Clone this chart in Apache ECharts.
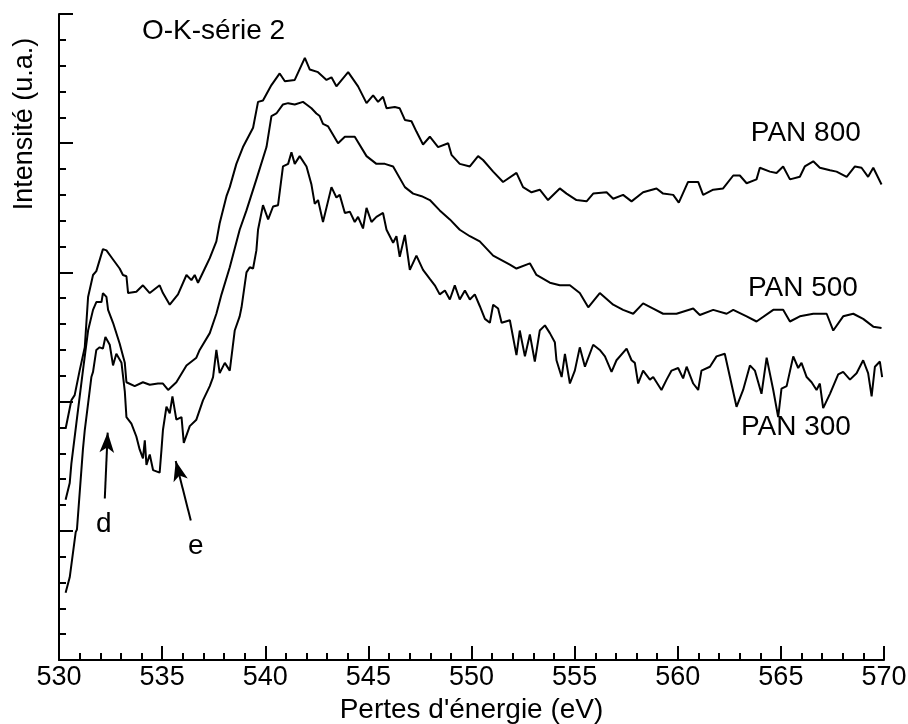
<!DOCTYPE html>
<html><head><meta charset="utf-8">
<script src="https://cdn.jsdelivr.net/npm/echarts@6/dist/echarts.min.js"></script>
<style>html,body{margin:0;padding:0;background:#fff}#c{width:908px;height:724px}</style>
</head><body><div id="c"></div>
<script>
// Energy loss (eV), intensity (a.u.)
const pan800 = [[530.32,1.79],[530.60,2.01],[530.76,2.05],[531.00,2.24],[531.25,2.42],[531.41,2.81],[531.65,2.98],[531.81,3.01],[532.13,3.18],[532.30,3.17],[532.62,3.10],[532.94,3.03],[533.10,2.98],[533.27,2.97],[533.35,2.84],[533.75,2.85],[534.07,2.90],[534.40,2.84],[534.88,2.90],[535.04,2.84],[535.37,2.75],[535.77,2.83],[536.18,2.98],[536.42,2.94],[536.58,2.98],[536.74,2.92],[537.07,3.03],[537.31,3.11],[537.63,3.24],[537.79,3.38],[538.12,3.59],[538.28,3.66],[538.60,3.84],[538.92,3.97],[539.41,4.12],[539.65,4.32],[539.89,4.33],[540.30,4.45],[540.70,4.54],[540.95,4.48],[541.43,4.49],[541.92,4.66],[542.16,4.57],[542.56,4.55],[542.97,4.49],[543.21,4.51],[543.45,4.44],[544.02,4.55],[544.50,4.44],[544.91,4.31],[545.23,4.37],[545.47,4.32],[545.71,4.36],[545.88,4.27],[546.28,4.28],[546.52,4.27],[546.77,4.18],[547.09,4.17],[547.33,4.09],[547.65,3.99],[547.98,4.05],[548.38,3.97],[548.87,4.00],[549.03,3.91],[549.43,3.84],[549.92,3.82],[550.32,3.90],[550.56,3.87],[551.05,3.78],[551.53,3.70],[552.18,3.77],[552.50,3.66],[552.91,3.62],[553.31,3.64],[553.71,3.56],[554.28,3.65],[554.61,3.61],[555.09,3.56],[555.58,3.55],[555.90,3.61],[556.55,3.62],[556.87,3.57],[557.35,3.60],[557.76,3.55],[558.32,3.62],[558.97,3.65],[559.29,3.61],[559.78,3.60],[560.05,3.54],[560.50,3.70],[560.99,3.70],[561.23,3.60],[561.72,3.64],[562.20,3.65],[562.69,3.75],[563.01,3.75],[563.34,3.69],[563.82,3.72],[563.98,3.81],[564.47,3.78],[564.79,3.77],[565.11,3.82],[565.44,3.72],[565.92,3.74],[566.16,3.82],[566.57,3.86],[566.89,3.81],[567.38,3.79],[567.70,3.78],[568.19,3.74],[568.59,3.82],[568.91,3.81],[569.23,3.74],[569.48,3.81],[569.88,3.68]];

const pan500 = [[530.32,1.24],[530.52,1.37],[530.60,1.52],[530.84,1.83],[531.16,2.24],[531.41,2.55],[531.65,2.71],[531.81,2.77],[532.06,2.77],[532.13,2.84],[532.30,2.81],[532.38,2.71],[532.62,2.61],[532.94,2.45],[533.19,2.30],[533.27,2.15],[533.67,2.12],[534.07,2.15],[534.40,2.13],[534.80,2.14],[535.04,2.14],[535.29,2.09],[535.69,2.15],[536.18,2.28],[536.66,2.34],[536.82,2.40],[537.31,2.53],[537.63,2.68],[537.88,2.83],[538.28,3.04],[538.76,3.33],[539.09,3.48],[539.57,3.72],[540.06,3.97],[540.30,4.21],[540.54,4.23],[540.86,4.30],[541.11,4.31],[541.43,4.30],[541.83,4.32],[542.00,4.30],[542.24,4.27],[542.48,4.23],[542.64,4.21],[542.80,4.15],[543.05,4.13],[543.53,4.00],[543.86,4.05],[544.34,4.05],[544.91,3.90],[545.39,3.84],[545.80,3.84],[546.20,3.82],[546.77,3.66],[547.17,3.61],[547.58,3.59],[547.98,3.56],[548.46,3.48],[548.95,3.41],[549.43,3.33],[549.92,3.28],[550.40,3.24],[551.05,3.13],[551.86,3.06],[552.18,3.03],[552.83,3.07],[553.15,2.98],[553.80,2.92],[554.28,2.90],[554.77,2.90],[555.25,2.84],[555.66,2.73],[556.22,2.84],[556.87,2.75],[557.35,2.71],[557.84,2.68],[558.32,2.76],[558.81,2.72],[559.29,2.68],[559.94,2.68],[560.75,2.72],[561.07,2.67],[561.72,2.71],[562.37,2.68],[562.69,2.71],[563.34,2.66],[563.82,2.62],[564.63,2.71],[565.11,2.71],[565.44,2.62],[565.92,2.66],[566.57,2.68],[567.22,2.68],[567.54,2.55],[568.02,2.66],[568.51,2.68],[568.99,2.64],[569.48,2.58],[569.88,2.57]];

const pan300 = [[530.32,0.52],[530.52,0.64],[530.60,0.64],[530.81,0.99],[530.87,1.01],[531.16,1.63],[531.25,1.78],[531.57,2.19],[531.65,2.23],[531.81,2.40],[531.97,2.42],[532.13,2.41],[532.25,2.50],[532.46,2.44],[532.62,2.28],[532.78,2.37],[533.03,2.30],[533.19,2.08],[533.27,1.88],[533.51,1.83],[533.75,1.73],[533.91,1.63],[534.07,1.56],[534.16,1.70],[534.24,1.51],[534.40,1.59],[534.56,1.47],[534.64,1.47],[534.88,1.45],[534.97,1.63],[535.04,1.78],[535.21,1.96],[535.37,1.91],[535.50,2.04],[535.69,1.86],[535.94,1.88],[536.05,1.68],[536.34,1.81],[536.66,1.86],[536.98,2.01],[537.31,2.12],[537.47,2.19],[537.63,2.40],[537.79,2.22],[538.04,2.30],[538.28,2.24],[538.52,2.55],[538.76,2.66],[538.85,2.73],[539.09,3.00],[539.25,3.04],[539.41,3.03],[539.57,3.17],[539.65,3.33],[539.89,3.52],[539.98,3.53],[540.14,3.41],[540.38,3.51],[540.62,3.52],[540.86,3.82],[541.11,3.84],[541.27,3.93],[541.43,3.84],[541.67,3.90],[542.00,3.82],[542.24,3.68],[542.40,3.53],[542.56,3.56],[542.80,3.39],[543.21,3.66],[543.45,3.58],[543.61,3.60],[543.86,3.46],[544.10,3.47],[544.34,3.39],[544.50,3.43],[544.74,3.34],[544.91,3.50],[545.15,3.39],[545.39,3.43],[545.71,3.46],[545.88,3.33],[546.20,3.23],[546.36,3.28],[546.52,3.12],[546.77,3.29],[547.01,3.02],[547.33,3.13],[547.65,3.02],[547.98,2.95],[548.22,2.90],[548.46,2.83],[548.71,2.86],[548.95,2.79],[549.19,2.90],[549.43,2.79],[549.68,2.86],[549.92,2.79],[550.16,2.83],[550.40,2.74],[550.65,2.64],[550.89,2.61],[551.05,2.75],[551.29,2.72],[551.46,2.61],[551.86,2.63],[552.18,2.36],[552.34,2.55],[552.59,2.35],[552.83,2.52],[553.07,2.31],[553.31,2.55],[553.56,2.59],[553.80,2.53],[554.04,2.46],[554.12,2.32],[554.37,2.19],[554.53,2.37],[554.77,2.14],[555.01,2.24],[555.25,2.42],[555.50,2.27],[555.90,2.44],[556.22,2.40],[556.47,2.35],[556.79,2.23],[557.03,2.32],[557.52,2.41],[557.76,2.32],[557.92,2.30],[558.08,2.14],[558.32,2.24],[558.65,2.17],[558.81,2.19],[559.21,2.09],[559.46,2.17],[559.70,2.24],[560.02,2.26],[560.26,2.18],[560.43,2.27],[560.75,2.14],[560.99,2.09],[561.15,2.24],[561.56,2.27],[561.88,2.35],[562.28,2.37],[562.53,2.19],[562.85,1.96],[563.17,2.09],[563.50,2.28],[563.74,2.24],[564.06,2.06],[564.31,2.34],[564.63,2.09],[564.87,1.88],[565.03,2.10],[565.28,2.12],[565.60,2.35],[565.84,2.26],[566.00,2.30],[566.25,2.19],[566.49,2.15],[566.73,2.09],[566.89,2.14],[567.05,1.95],[567.38,2.06],[567.78,2.21],[568.02,2.23],[568.35,2.17],[568.67,2.22],[568.99,2.32],[569.23,2.22],[569.40,2.04],[569.56,2.27],[569.80,2.31],[569.91,2.19]];

// Text annotations: [label, energy, intensity]
const curveLabels = [['PAN 800', 566.21, 4.08], ['PAN 500', 566.07, 2.88], ['PAN 300', 565.73, 1.80]];
const peakLabels = [['d', 532.17, 1.05], ['e', 536.63, 0.88]];
// Arrows: [from energy, from intensity, to energy, to intensity]
const arrows = [[532.22, 1.25, 532.36, 1.76], [536.39, 1.08, 535.66, 1.54]];
const xTicks = {min: 530, max: 570, interval: 5};
const yTicks = {min: 0, max: 5, interval: 1};

const FONT = '"Liberation Sans", Arial, Helvetica, sans-serif';
const chart = echarts.init(document.getElementById('c'), null, {renderer: 'canvas'});

const lineSeries = (name, data) => ({
  name, type: 'line', data, showSymbol: false, symbol: 'none', smooth: false,
  lineStyle: {color: '#000', width: 2}, animation: false, silent: true
});

const annot = curveLabels.concat(peakLabels).map(a => ({name: a[0], value: [a[1], a[2]]}));

chart.setOption({
  animation: false,
  backgroundColor: '#fff',
  title: {text: 'O-K-série 2', left: 137, top: 12,
    textStyle: {fontFamily: FONT, fontSize: 28, fontWeight: 'normal', color: '#000'}},
  grid: {left: 59, right: 24, top: 14, bottom: 64, containLabel: false, outerBoundsMode: 'none'},
  xAxis: {
    type: 'value', min: xTicks.min, max: xTicks.max, interval: xTicks.interval,
    name: "Pertes d'énergie (eV)", nameLocation: 'middle', nameGap: 31,
    nameTextStyle: {fontFamily: FONT, fontSize: 28, color: '#000'},
    axisLine: {lineStyle: {color: '#000', width: 2}},
    axisTick: {inside: true, length: 14, lineStyle: {color: '#000', width: 2}},
    minorTick: {show: true, splitNumber: 5, length: 7, lineStyle: {color: '#000', width: 2}},
    axisLabel: {fontFamily: FONT, fontSize: 27, color: '#000', margin: 4},
    splitLine: {show: false}
  },
  yAxis: {
    type: 'value', min: yTicks.min, max: yTicks.max, interval: yTicks.interval,
    axisLine: {show: true, lineStyle: {color: '#000', width: 2}},
    axisTick: {show: true, inside: true, length: 14, lineStyle: {color: '#000', width: 2}},
    minorTick: {show: true, splitNumber: 5, length: 7, lineStyle: {color: '#000', width: 2}},
    axisLabel: {show: false},
    splitLine: {show: false}
  },
  graphic: [{
    type: 'text', x: 25, y: 124, rotation: Math.PI / 2,
    style: {text: 'Intensité (u.a.)', font: '27px ' + FONT, fill: '#000', align: 'center', verticalAlign: 'middle'}
  }],
  series: [
    lineSeries('PAN 800', pan800),
    lineSeries('PAN 500', pan500),
    lineSeries('PAN 300', pan300),
    {
      type: 'scatter', data: annot, symbolSize: 1, silent: true, animation: false,
      itemStyle: {opacity: 0},
      label: {show: true, position: 'inside', formatter: '{b}', fontFamily: FONT, fontSize: 28, color: '#000', opacity: 1},
      emphasis: {disabled: true},
      markLine: {
        silent: true, animation: false, symbol: ['none', 'arrow'], symbolSize: 18, precision: 4,
        label: {show: false},
        lineStyle: {color: '#000', width: 2, type: 'solid', opacity: 1},
        itemStyle: {color: '#000', opacity: 1},
        data: arrows.map(a => [
          {coord: [a[0], a[1]], symbol: 'none'},
          {coord: [a[2], a[3]], symbol: 'arrow', symbolSize: [11, 20]}
        ])
      }
    }
  ]
});
</script>
</body></html>
